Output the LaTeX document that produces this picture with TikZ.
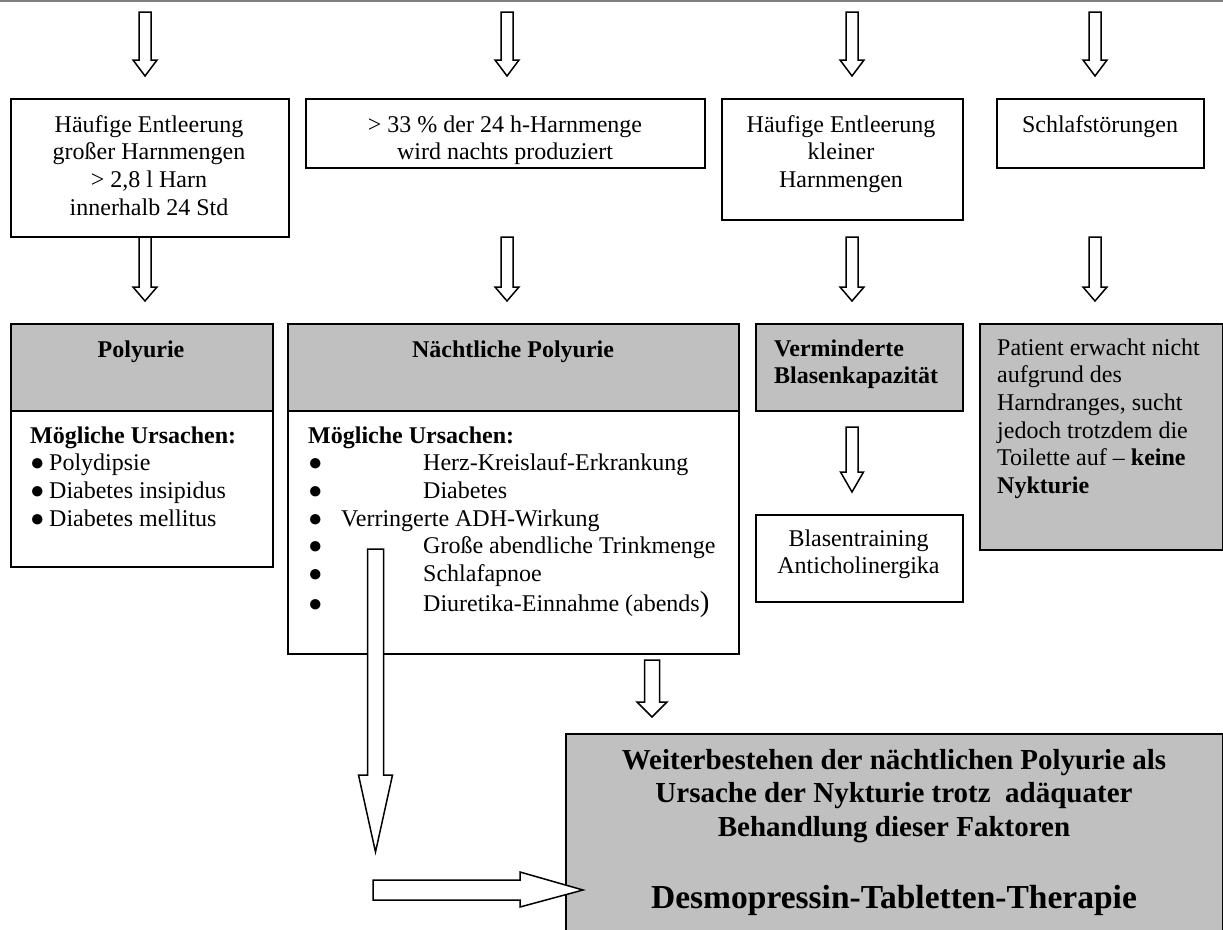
\documentclass[tikz,border=0pt]{standalone}
\usepackage{fontspec}
\setmainfont{Liberation Serif}
\definecolor{boxgray}{HTML}{C0C0C0}
\definecolor{topline}{HTML}{808080}
\newcommand{\Rt}{\rule{0pt}{22pt}}
\newcommand{\Rb}{\rule{0pt}{26pt}}
% x, ytop, yhead, ytip, shaft half width, head half width
\newcommand{\blockdown}[6]{%
  \draw[barrow] (#1-#5,#2) -- (#1+#5,#2) -- (#1+#5,#3) -- (#1+#6,#3) -- (#1,#4) -- (#1-#6,#3) -- (#1-#5,#3) -- cycle;}
\begin{document}
\begin{tikzpicture}[x=1pt,y=-1pt,
  box/.style={draw=black, line width=1.8pt, fill=white, inner sep=0pt, anchor=north west},
  graybox/.style={box, fill=boxgray},
  barrow/.style={draw=black, fill=white, line width=1.5pt, line join=miter},
  txt/.style={inner sep=0pt, font=\fontsize{24}{27.6}\selectfont},
  btxt/.style={inner sep=0pt, font=\fontsize{24}{27.6}\selectfont\bfseries},
  bigtxt/.style={inner sep=0pt, font=\fontsize{29}{33.5}\selectfont\bfseries}]
\useasboundingbox (0,0) rectangle (1223,929);
\fill[white] (0,0) rectangle (1223,929);
\draw[topline, line width=2pt] (0,1) -- (1223,1);

% top row arrows
\blockdown{145}{12}{60}{76}{6}{12}
\blockdown{507}{12}{60}{76}{6}{12}
\blockdown{852}{12}{60}{76}{6}{12}
\blockdown{1095}{12}{60}{76}{6}{12}

% first row boxes
\node[box, minimum width=278pt, minimum height=138pt] (A) at (10,98) {};
\node[box, minimum width=399pt, minimum height=69pt] (B) at (305,98) {};
\node[box, minimum width=241pt, minimum height=121pt] (C) at (721,98) {};
\node[box, minimum width=207pt, minimum height=69pt] (D) at (996,98) {};

\node[txt, anchor=north, align=center] (At) at (149,110) {\Rt Häufige Entleerung\\großer Harnmengen\\> 2,8 l Harn\\innerhalb 24 Std};
\node[txt, anchor=north, align=center] (Bt) at (505,110) {\Rt > 33 \% der 24 h-Harnmenge\\wird nachts produziert};
\node[txt, anchor=north, align=center] (Ct) at (841,110) {\Rt Häufige Entleerung\\kleiner\\Harnmengen};
\node[txt, anchor=north, align=center] (Dt) at (1100,110) {\Rt Schlafstörungen};

% second row arrows
\blockdown{145}{237}{287}{301}{6}{12}
\blockdown{507}{237}{287}{301}{6}{12}
\blockdown{852}{237}{287}{301}{6}{12}
\blockdown{1095}{237}{287}{301}{6}{12}

% Polyurie
\node[graybox, minimum width=262pt, minimum height=87pt] (Ph) at (10,323) {};
\node[box, minimum width=262pt, minimum height=156pt] (Pb) at (10,410) {};
\node[btxt, anchor=base] (Pht) at (141,357) {Polyurie};
\node[txt, anchor=north west, align=left] (Pbt) at (30,421) {\Rt\textbf{Mögliche Ursachen:}\\
\makebox[19pt][l]{●}Polydipsie\\
\makebox[19pt][l]{●}Diabetes insipidus\\
\makebox[19pt][l]{●}Diabetes mellitus};

% Naechtliche Polyurie
\node[graybox, minimum width=451pt, minimum height=87pt] (Nh) at (287,323) {};
\node[box, minimum width=451pt, minimum height=243pt] (Nb) at (287,410) {};
\node[btxt, anchor=base] (Nht) at (513,357) {Nächtliche Polyurie};
\node[txt, anchor=north west, align=left] (Nbt) at (308,421) {\Rt\textbf{Mögliche Ursachen:}\\
\makebox[115pt][l]{●}Herz-Kreislauf-Erkrankung\\
\makebox[115pt][l]{●}Diabetes\\
\makebox[33pt][l]{●}Verringerte ADH-Wirkung\\
\makebox[115pt][l]{●}Große abendliche Trinkmenge\\
\makebox[115pt][l]{●}Schlafapnoe\\[3pt]
\makebox[115pt][l]{●}Diuretika-Einnahme (abends{\fontsize{29}{29}\selectfont)}};

% Verminderte Blasenkapazitaet
\node[graybox, minimum width=207pt, minimum height=87pt] (V) at (755,323) {};
\node[btxt, anchor=north west, align=left] (Vt) at (774,334) {\Rt Verminderte\\Blasenkapazität};
\blockdown{852}{427}{472}{492}{6}{11.5}
\node[box, minimum width=207pt, minimum height=87pt] (T) at (755,514) {};
\node[txt, anchor=north, align=center] (Tt) at (858.5,524) {\Rt Blasentraining\\Anticholinergika};

% Patient
\node[graybox, minimum width=243pt, minimum height=226pt] (Pa) at (979,323) {};
\node[txt, anchor=north west, align=left] (Pat) at (997,333) {\Rt Patient erwacht nicht\\aufgrund des\\Harndranges, sucht\\jedoch trotzdem die\\Toilette auf – \textbf{keine}\\\textbf{Nykturie}};

% big box
\node[graybox, minimum width=657pt, minimum height=215pt] (W) at (565,733) {};
\node[bigtxt, anchor=north, align=center] (Wt) at (894,743) {\Rb Weiterbestehen der nächtlichen Polyurie als\\Ursache der Nykturie trotz\ \ adäquater\\Behandlung dieser Faktoren};
\node[inner sep=0pt, font=\fontsize{33.5}{38}\selectfont\bfseries, anchor=base] (Wd) at (894,908) {Desmopressin-Tabletten-Therapie};

% lower arrows
\blockdown{652}{660}{702}{717}{7.5}{15}
\blockdown{375.5}{549}{775}{852}{8}{17}
\draw[barrow] (373,880) -- (520,880) -- (520,872) -- (583,890) -- (520,907) -- (520,900) -- (373,900) -- cycle;
\end{tikzpicture}
\end{document}
